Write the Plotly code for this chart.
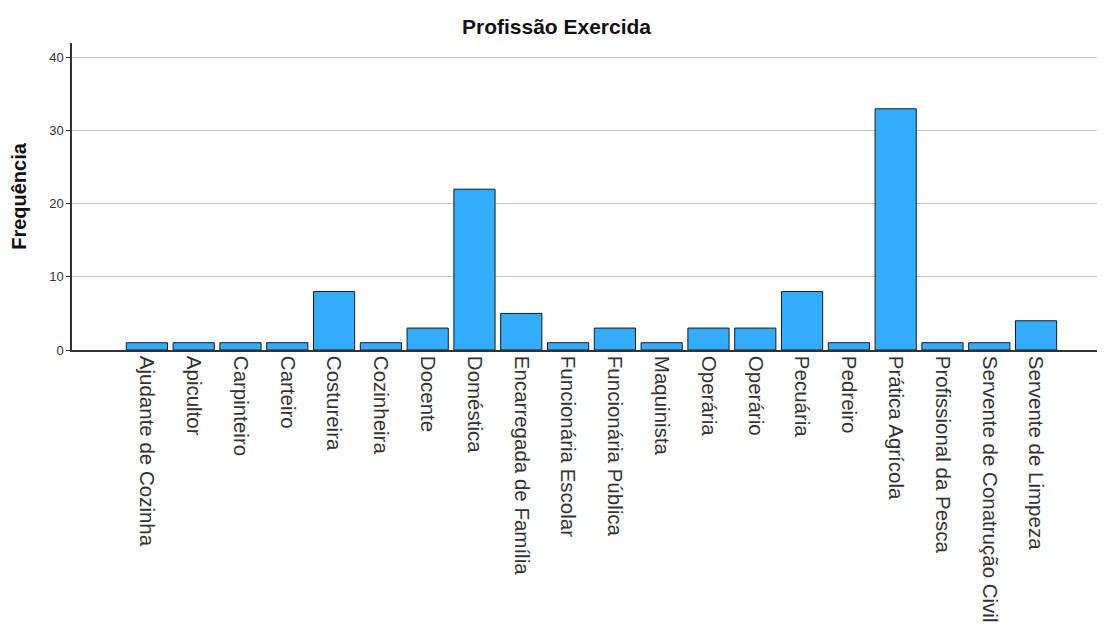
import plotly.graph_objects as go

# dados
profissoes = [
    "Ajudante de Cozinha", "Apicultor", "Carpinteiro", "Carteiro", "Costureira",
    "Cozinheira", "Docente", "Doméstica", "Encarregada de Família",
    "Funcionária Escolar", "Funcionária Pública", "Maquinista", "Operária",
    "Operário", "Pecuária", "Pedreiro", "Prática Agrícola",
    "Profissional da Pesca", "Servente de Conatrução Civil", "Servente de Limpeza",
]
frequencias = [1, 1, 1, 1, 8, 1, 3, 22, 5, 1, 3, 1, 3, 3, 8, 1, 33, 1, 1, 4]
y_ticks = [0, 10, 20, 30, 40]

BAR_COLOR = "#33ADFF"
TEXT = "#222222"
FONT = "Liberation Sans, Arial, sans-serif"

fig = go.Figure()
fig.add_trace(go.Bar(
    x=list(range(len(profissoes))), y=frequencias,
    marker=dict(color=BAR_COLOR, line=dict(color="#1a1a1a", width=1)),
    hovertemplate="%{customdata}: %{y}<extra></extra>",
    customdata=profissoes,
))

# a página tem 8px de margem no body, por isso a figura é um pouco menor
fig.update_layout(
    width=1097, height=620,
    paper_bgcolor="white", plot_bgcolor="white",
    margin=dict(l=64, r=2, t=35, b=278),
    bargap=0.12,
    showlegend=False,
    font=dict(family=FONT, color=TEXT),
    title=dict(text="<b>Profissão Exercida</b>", x=0.50, xanchor="center",
               y=0.970, yanchor="middle", font=dict(size=21, color="#111")),
)
fig.update_xaxes(
    tickmode="array", tickvals=list(range(len(profissoes))), ticktext=profissoes,
    tickangle=90, range=[-1.6, 20.43], automargin=False,
    tickfont=dict(size=20.5, color="#333"),
    showline=True, linecolor="#333", linewidth=1.5,
    showgrid=False, zeroline=False, ticks="",
)
fig.update_yaxes(
    range=[0, 42], tickvals=y_ticks, automargin=False,
    tickfont=dict(size=13, color="#333"),
    title=dict(text="<b>Frequência</b>", font=dict(size=20, color="#111"), standoff=20),
    showline=True, linecolor="#333", linewidth=1.5,
    ticks="outside", ticklen=4, tickcolor="#333",
    gridcolor="#c4c4c4", gridwidth=1, zeroline=False,
)

fig.write_html("out.html")
